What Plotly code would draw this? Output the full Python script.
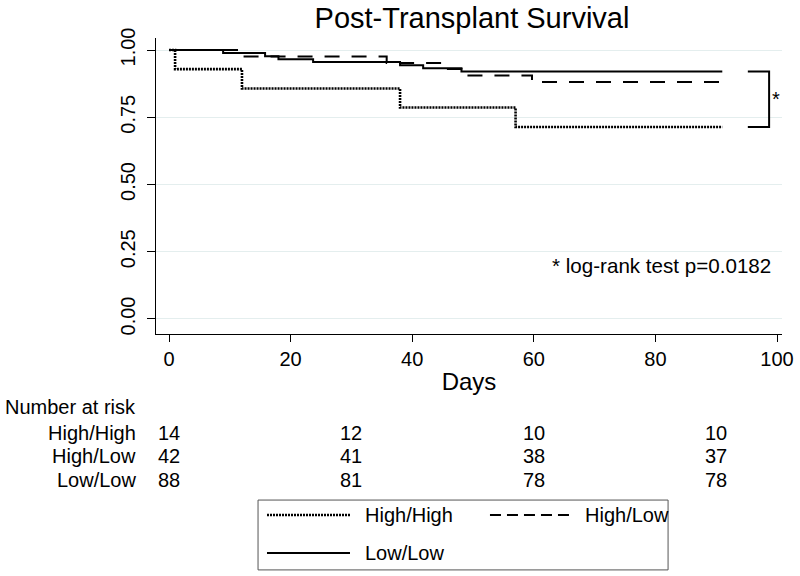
import plotly.graph_objects as go

# Kaplan-Meier step data
hh_days = [0, 1, 12, 38, 57, 91]
hh_surv = [1.0, 0.929, 0.857, 0.786, 0.714, 0.714]

hl_days = [0, 11.4, 35.8, 44.8, 48.1, 59.7, 91]
hl_surv = [1.0, 0.976, 0.952, 0.929, 0.905, 0.881, 0.881]

ll_days = [0, 8.9, 15.8, 18.0, 23.7, 38.0, 41.8, 48.1, 91]
ll_surv = [1.0, 0.989, 0.977, 0.966, 0.955, 0.943, 0.932, 0.920, 0.920]

groups = ["High/High", "High/Low", "Low/Low"]
risk_days = [0, 30, 60, 90]
risk_hh = [14, 12, 10, 10]
risk_hl = [42, 41, 38, 37]
risk_ll = [88, 81, 78, 78]

x_ticks = [0, 20, 40, 60, 80, 100]
y_ticks = [0.0, 0.25, 0.5, 0.75, 1.0]
y_ticklabels = ["0.00", "0.25", "0.50", "0.75", "1.00"]

FONT = "Liberation Sans, Arial, sans-serif"
DOT = "2px,1px"
DASH = "15px,12px"

fig = go.Figure()
fig.add_trace(go.Scatter(x=hh_days, y=hh_surv, mode="lines", line_shape="hv",
                         line=dict(color="black", width=2.6, dash=DOT), name=groups[0]))
fig.add_trace(go.Scatter(x=hl_days, y=hl_surv, mode="lines", line_shape="hv",
                         line=dict(color="black", width=2, dash=DASH), name=groups[1]))
fig.add_trace(go.Scatter(x=ll_days, y=ll_surv, mode="lines", line_shape="hv",
                         line=dict(color="black", width=2), name=groups[2]))

# bracket joining the top and bottom curves
bx0, bx1 = 95.2, 98.7
fig.add_trace(go.Scatter(x=[bx0, bx1, bx1, bx0], y=[ll_surv[-1], ll_surv[-1], hh_surv[-1], hh_surv[-1]],
                         mode="lines", line=dict(color="black", width=2), showlegend=False, hoverinfo="skip"))

annots = []
annots.append(dict(x=99.9, y=(ll_surv[-1] + hh_surv[-1]) / 2, xref="x", yref="y", text="*",
                   showarrow=False, xanchor="center", yanchor="middle", font=dict(size=20)))
annots.append(dict(x=99.4, y=0.20, xref="x", yref="y", text="* log-rank test p=0.0182",
                   showarrow=False, xanchor="right", yanchor="middle", font=dict(size=20.6)))

# number at risk table
annots.append(dict(x=-0.2444, y=-0.2466, xref="paper", yref="paper", text="Number at risk",
                   showarrow=False, xanchor="left", yanchor="middle", font=dict(size=20)))
row_y = [-0.3345, -0.412, -0.493]
for g, vals, ry in zip(groups, [risk_hh, risk_hl, risk_ll], row_y):
    annots.append(dict(x=-0.0288, y=ry, xref="paper", yref="paper", text=g, showarrow=False,
                       xanchor="right", yanchor="middle", font=dict(size=20)))
    for d, v in zip(risk_days, vals):
        annots.append(dict(x=d, y=ry, xref="x", yref="paper", text=str(v), showarrow=False,
                           xanchor="center", yanchor="middle", font=dict(size=20)))

# hand-drawn legend box
shapes = [dict(type="rect", xref="paper", yref="paper", x0=0.163, x1=0.818, y0=-0.797, y1=-0.561,
               line=dict(color="#555555", width=1), fillcolor="white")]
leg = [(0.1773, 0.3099, -0.6115, DOT, 2.6, groups[0]),
       (0.5335, 0.6613, -0.6115, "11px,6px", 2, groups[1]),
       (0.1773, 0.3099, -0.740, "solid", 2, groups[2])]
for lx0, lx1, ly, dsh, w, name in leg:
    shapes.append(dict(type="line", xref="paper", yref="paper", x0=lx0, x1=lx1, y0=ly, y1=ly,
                       line=dict(color="black", width=w, dash=dsh)))
    annots.append(dict(x=lx1 + 0.021, y=ly, xref="paper", yref="paper", text=name, showarrow=False,
                       xanchor="left", yanchor="middle", font=dict(size=20)))

fig.update_layout(
    width=800, height=576,
    margin=dict(l=156, r=18, t=38, b=242),
    paper_bgcolor="white", plot_bgcolor="white",
    font=dict(family=FONT, size=20, color="black"),
    showlegend=False,
    title=dict(text="Post-Transplant Survival", x=0.59, xanchor="center", y=0.969, yanchor="middle",
               font=dict(size=29, color="black")),
    annotations=annots, shapes=shapes,
)
fig.update_xaxes(range=[-2.14, 100.82], tickvals=x_ticks, ticks="outside", ticklen=7, tickcolor="black",
                 showline=True, linecolor="black", linewidth=1, showgrid=False, zeroline=False,
                 automargin=False, title=dict(text="Days", standoff=4), tickfont=dict(size=20))
fig.update_yaxes(range=[-0.0558, 1.0446], tickvals=y_ticks, ticktext=y_ticklabels, ticks="outside",
                 ticklen=8, tickcolor="black", tickangle=-90, showline=True, linecolor="black", linewidth=1,
                 ticklabelstandoff=4, automargin=False,
                 showgrid=True, gridcolor="#e4eeee", gridwidth=1, zeroline=False, tickfont=dict(size=20))

fig.write_html("out.html", config={"displayModeBar": False},
               post_script="document.body.style.margin='0';")
